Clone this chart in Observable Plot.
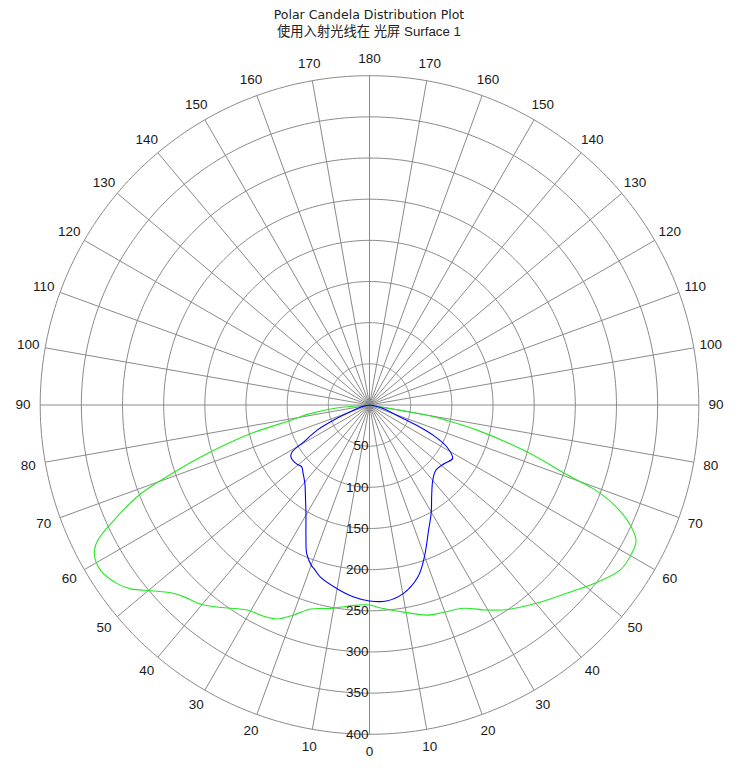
<!DOCTYPE html>
<html>
<head>
<meta charset="utf-8">
<script src="https://cdn.jsdelivr.net/npm/d3@7"></script>
<script src="https://cdn.jsdelivr.net/npm/@observablehq/plot@0.6"></script>
<style>
  html, body { margin: 0; padding: 0; background: #fff; }
  #title { width: 738px; height: 34px; padding-top: 6px; text-align: center;
           font-family: "Liberation Sans", Arial, sans-serif; font-size: 13px; line-height: 17px; color: #222; }
  #title .l1 { font-family: "DejaVu Sans", "Liberation Sans", sans-serif; font-size: 12.5px; }
  #title .l2 { font-family: "Liberation Sans", "Noto Sans CJK SC", Arial, sans-serif; font-size: 13.3px; }
  #chart svg { display: block; }
</style>
</head>
<body>
<div id="title"><div class="l1">Polar Candela Distribution Plot</div><div class="l2">使用入射光线在 光屏 Surface 1</div></div>
<div id="chart"></div>
<script>
// ---- tick values ----
const radialTicks = [50, 100, 150, 200, 250, 300, 350, 400];
const angleTicks = [0, 10, 20, 30, 40, 50, 60, 70, 80, 90, 100, 110, 120, 130, 140, 150, 160, 170, 180];
const spokeAngles = d3.range(0, 360, 10);

// ---- series (signed angle from nadir in degrees: negative = left half; candela) ----
const blueAngles = [-90, -80, -75.3, -70.6, -67.2, -64.4, -60.8, -58.7, -57, -55, -51.3, -47.6, -44.7, -39.4, -34.9, -30.3, -25.7, -22.9, -20, -18.3, -15.9, -10, -4.7, 0,
                    4.9, 10, 15.7, 19.9, 25.3, 29.6, 35.1, 40, 45.5, 52, 57.2, 61.5, 64.6, 66.7, 68.5, 75, 79, 90];
const blueValues = [0, 6, 13, 24.5, 47, 70, 91, 110, 114, 115, 114, 111.5, 115, 123.6, 136, 153, 178, 196, 207, 211, 217.5, 226.6, 234, 238,
                    239, 233, 217, 196, 168, 151.6, 131.5, 119.5, 113, 115.5, 120, 107, 86, 63, 40.5, 18, 9.5, 0];

const greenAngles = [-90, -84.5, -81.5, -79.2, -76.4, -73.5, -71, -68.8, -65.7, -63.5, -61.6, -58.4, -54.7, -52.4, -49.6, -46.6, -44, -40.2, -35.6, -30.8, -26.6, -23.3, -19.8, -16.1, -10.8, -3.5, 0,
                     3.1, 9.4, 15.3, 19.7, 24.8, 29.8, 34.5, 40.2, 46.3, 51.4, 56.6, 60.5, 63.1, 65.9, 68, 69.5, 70.5, 73.4, 76.8, 78.7, 80, 90];
const greenValues = [0, 44, 75, 95, 149, 201.5, 251, 298, 341, 369, 380, 383.5, 375.5, 366, 348, 332, 324, 317, 303, 290, 287, 283, 271, 258, 251.5, 243.5, 243,
                     247, 255, 264.6, 267.5, 272, 287, 301, 315, 331, 348, 364.5, 366, 363, 343, 318, 290, 256, 200, 135, 96, 70, 0];

// ---- polar -> cartesian (in candela units) ----
const toXY = (a, r) => { const t = a * Math.PI / 180; return {x: r * Math.sin(t), y: -r * Math.cos(t)}; };

const series = (angles, values, name) => angles.map((a, i) => ({...toXY(a, values[i]), name}));
const blue = series(blueAngles, blueValues, "blue");
const green = series(greenAngles, greenValues, "green");

const circles = radialTicks.flatMap(r => d3.range(0, 361, 1).map(a => ({...toXY(a, r), r})));
const rMax = d3.max(radialTicks);
const spokes = spokeAngles.map(a => { const p0 = toXY(a, 0), p1 = toXY(a, rMax); return {x1: p0.x, y1: p0.y, x2: p1.x, y2: p1.y}; });

const labelR = rMax * 1.0525;
const angleLabels = angleTicks.flatMap(a => {
  const out = [{...toXY(a, labelR), text: String(a)}];
  if (a > 0 && a < 180) out.push({...toXY(-a, labelR), text: String(a)});
  return out;
});
const radialLabels = radialTicks.map(r => ({...toXY(0, r), text: String(r)}));

// ---- layout: px per candela & centre ----
const W = 750, H = 742, K = 329.3 / 400, CX = 369, CY = 364.5;

const chart = Plot.plot({
  width: W, height: H, margin: 0,
  x: {domain: [-CX / K, (W - CX) / K], axis: null},
  y: {domain: [-(H - CY) / K, CY / K], axis: null},
  style: {fontFamily: "'Liberation Sans', Arial, sans-serif", fontSize: "13.5px", background: "#fff", color: "#1a1a1a"},
  marks: [
    Plot.line(circles, {x: "x", y: "y", z: "r", stroke: "#8a8a8a", strokeWidth: 1}),
    Plot.link(spokes, {x1: "x1", y1: "y1", x2: "x2", y2: "y2", stroke: "#8a8a8a", strokeWidth: 1}),
    Plot.line(green, {x: "x", y: "y", stroke: "#22ea22", strokeWidth: 1.1, curve: "catmull-rom"}),
    Plot.line(blue, {x: "x", y: "y", stroke: "#0000ff", strokeWidth: 1.1, curve: "catmull-rom"}),
    Plot.text(radialLabels, {x: "x", y: "y", text: "text", textAnchor: "end", dx: -1, fill: "#1a1a1a", fontSize: 13.5}),
    Plot.text(angleLabels, {x: "x", y: "y", text: "text", fill: "#1a1a1a", fontSize: 13.5})
  ]
});
document.getElementById("chart").appendChild(chart);
</script>
</body>
</html>
